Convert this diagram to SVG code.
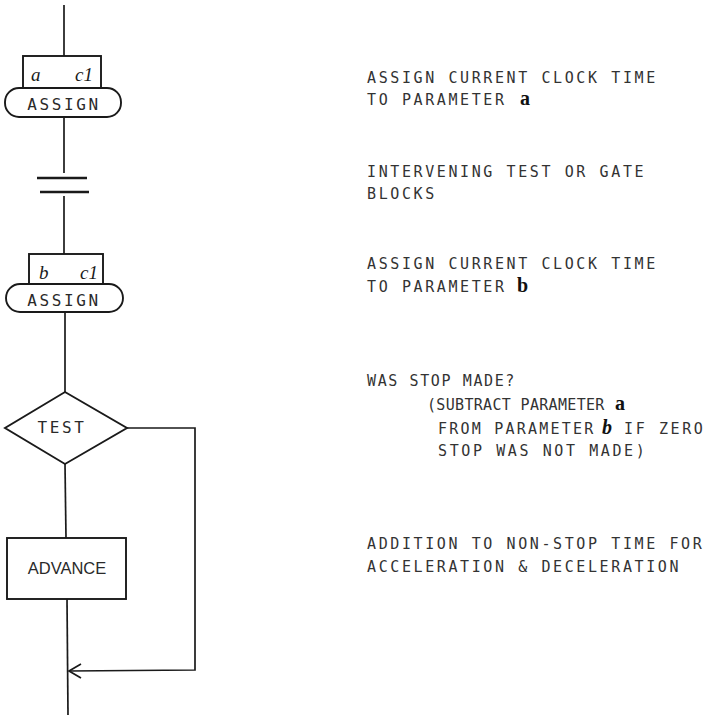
<svg xmlns="http://www.w3.org/2000/svg" width="723" height="717" viewBox="0 0 723 717">
<style>
.ln{stroke:#1a1a1a;stroke-width:1.7;fill:none}
.shape{stroke:#1a1a1a;stroke-width:1.9;fill:#fff}
.lbl{font-family:"DejaVu Sans Mono","Liberation Mono",monospace;font-size:16px;fill:#2a2a2a;letter-spacing:2.6px}
.sans{font-family:"Liberation Sans","Arial",sans-serif;font-size:16.5px;fill:#2a2a2a}
.note{font-family:"DejaVu Sans Mono","Liberation Mono",monospace;font-size:15px;fill:#333;letter-spacing:2.6px}
.hand{font-family:"Liberation Serif",serif;font-style:italic;font-size:19px;fill:#1a1a1a}
.par{font-family:"Liberation Serif",serif;font-weight:bold;font-size:20px;fill:#111}
</style>
<g id="connectors">
<line class="ln" x1="64" y1="5" x2="64" y2="56"/>
<line class="ln" x1="64" y1="117" x2="64" y2="173"/>
<line class="ln" x1="64" y1="196" x2="64" y2="254"/>
<line class="ln" x1="65" y1="312" x2="65" y2="392"/>
<line class="ln" x1="65" y1="464" x2="66" y2="538"/>
<line class="ln" x1="67" y1="599" x2="68" y2="715"/>
<polyline class="ln" points="127,428 195,428 195,670 69,671"/>
<polyline class="ln" points="81,664 69,671 81,678"/>
</g>
<g id="assign-a">
<rect class="shape" x="23" y="56" width="78" height="32"/>
<text class="hand" x="31" y="81">a</text>
<text class="hand" x="75" y="81">c1</text>
<rect class="shape" x="5" y="88" width="116" height="29" rx="14" ry="14"/>
<text class="lbl" x="64" y="110" text-anchor="middle">ASSIGN</text>
</g>
<g id="gate">
<line x1="37" y1="178" x2="87" y2="178" stroke="#1a1a1a" stroke-width="2.3"/>
<line x1="40" y1="192" x2="89" y2="192" stroke="#1a1a1a" stroke-width="2.3"/>
</g>
<g id="assign-b">
<rect class="shape" x="29" y="254" width="74" height="30"/>
<text class="hand" x="39" y="279">b</text>
<text class="hand" x="80" y="279">c1</text>
<rect class="shape" x="6" y="284" width="117" height="28" rx="14" ry="14"/>
<text class="lbl" x="64" y="306" text-anchor="middle">ASSIGN</text>
</g>
<g id="test">
<polygon class="shape" points="65,392 127,428 65,464 5,428"/>
<text class="lbl" x="62" y="433" text-anchor="middle" letter-spacing="1.2">TEST</text>
</g>
<g id="advance">
<rect class="shape" x="7" y="538" width="119" height="61"/>
<text class="sans" x="67" y="574" text-anchor="middle">ADVANCE</text>
</g>
<g id="notes">
<text class="note" x="367" y="83">ASSIGN CURRENT CLOCK TIME</text>
<text class="note" x="367" y="105">TO PARAMETER</text>
<text class="par" x="520" y="105">a</text>
<text class="note" x="367" y="177">INTERVENING TEST OR GATE</text>
<text class="note" x="367" y="199">BLOCKS</text>
<text class="note" x="367" y="269">ASSIGN CURRENT CLOCK TIME</text>
<text class="note" x="367" y="292">TO PARAMETER</text>
<text class="par" x="517" y="292" font-family="Liberation Sans,sans-serif">b</text>
<text class="note" x="367" y="386" textLength="150" lengthAdjust="spacing">WAS STOP MADE?</text>
<text class="note" x="427" y="410" textLength="180" lengthAdjust="spacing">(SUBTRACT PARAMETER</text>
<text class="par" x="615" y="410">a</text>
<text class="note" x="438" y="434" textLength="158" lengthAdjust="spacing">FROM PARAMETER</text>
<text class="par" x="602" y="434" font-style="italic">b</text>
<text class="note" x="624" y="434">IF ZERO</text>
<text class="note" x="438" y="456">STOP WAS NOT MADE)</text>
<text class="note" x="367" y="549">ADDITION TO NON-STOP TIME FOR</text>
<text class="note" x="367" y="572">ACCELERATION &amp; DECELERATION</text>
</g>
</svg>
